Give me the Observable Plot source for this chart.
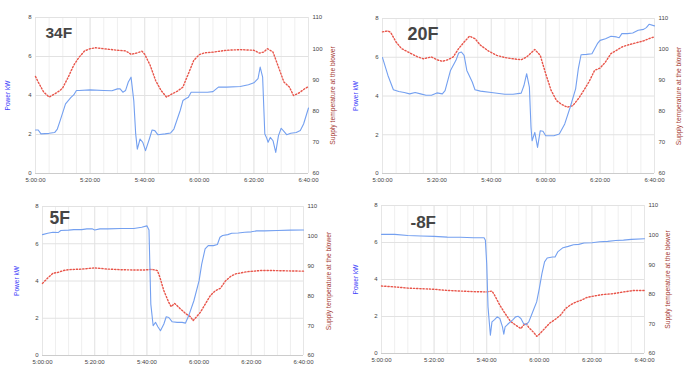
<!DOCTYPE html>
<html>
<head>
<meta charset="utf-8">
<script src="https://cdn.jsdelivr.net/npm/d3@7"></script>
<script src="https://cdn.jsdelivr.net/npm/@observablehq/plot@0.6"></script>
<style>
  body { margin: 0; background: #fff; }
  #wrap { position: relative; width: 700px; height: 389px; overflow: hidden; font-family: "Liberation Sans", Arial, sans-serif; }
  .panel { position: absolute; }
</style>
</head>
<body>
<div id="wrap"></div>
<script>
// ---- data (minutes after 5:00:00, value) ----
const xTicks = [0, 20, 40, 60, 80, 100];
const xTickLabels = ["5:00:00", "5:20:00", "5:40:00", "6:00:00", "6:20:00", "6:40:00"];
const minorTicks = [0,5,10,15,20,25,30,35,40,45,50,55,60,65,70,75,80,85,90,95,100];
const powerTicks = [0, 2, 4, 6, 8];
const tempTicks = [60, 70, 80, 90, 100, 110];
const panelLabels = ["34F", "20F", "5F", "-8F"];
const leftTitle = "Power kW";
const rightTitle = "Supply temperature at the blower";

const power34 = [[0,2.23],[1,2.23],[2,2.03],[5,2.06],[7,2.1],[8,2.28],[9,2.7],[11,3.57],[12,3.74],[13,3.9],[14,4.03],[15,4.26],[16,4.26],[20,4.29],[25,4.26],[28,4.24],[30,4.34],[31,4.34],[32,4.17],[33,4.26],[34,4.69],[35,4.94],[36,3.74],[36.7,2.03],[37.3,1.25],[38.3,1.77],[39.3,1.6],[40.3,1.17],[41.7,1.77],[42.7,2.23],[43.7,2.2],[44.8,1.99],[47.5,2.03],[49.5,2.08],[50.7,2.28],[53,3.23],[54,3.74],[55,3.83],[56,3.91],[57,4.17],[60,4.17],[63,4.17],[65,4.2],[67,4.43],[70,4.43],[75,4.46],[78,4.55],[80,4.65],[81.5,4.86],[82.3,5.46],[83.2,4.94],[84,2.03],[84.6,1.85],[85.2,1.6],[86,1.85],[87,1.68],[88,1.08],[89,1.94],[90,2.32],[91,2.16],[92,1.99],[93.5,2.06],[95.5,2.1],[97,2.2],[98.2,2.54],[100,3.36]];
const temp34 = [[0,91.1],[1,89.3],[3,86.1],[5,84.5],[7,85.5],[9,86.6],[10,87.5],[12,90.9],[14,94.7],[16,97.3],[18,99.3],[20,100],[22,100.3],[25,100],[30,99.5],[33,99.3],[35,98.2],[37,98.6],[39,99.2],[40,98.2],[42,94.7],[44,89.8],[46,86.6],[48,84.5],[50,85.5],[52,86.4],[54,87.7],[56,92],[58,96.3],[60,98.1],[62,98.7],[65,98.9],[70,99.5],[75,99.7],[80,99.5],[82,98.6],[83.5,98.9],[85,100],[87,98.9],[89,94.1],[91,89.3],[93,87.7],[94.5,85],[96.5,85.8],[98.5,87.1],[100,87.9]];

const power20 = [[0,5.98],[2,5.06],[4,4.32],[6,4.23],[8,4.18],[10,4.11],[12,4.18],[14,4.11],[16,4.04],[18,4.04],[20,4.16],[22,4.11],[23,4.28],[25,5.32],[27,5.84],[28,6.22],[29,6.27],[30,6.1],[31,5.32],[33,4.72],[34,4.32],[36,4.25],[40,4.18],[45,4.09],[48,4.09],[51,4.15],[52,4.54],[53,5.15],[54,4.46],[54.6,2.38],[55,1.69],[56,2.12],[57,1.35],[58,2.21],[59,2.18],[60,1.95],[63,1.95],[65,2.04],[67,2.56],[69,3.42],[71,4.37],[72,5.41],[73,6.13],[75,6.15],[77,6.18],[79,6.7],[80,6.87],[82,6.96],[84,7.08],[86,7.05],[87,7.01],[88,7.22],[90,7.22],[92,7.25],[94,7.39],[96,7.44],[97,7.53],[98,7.7],[100,7.62]];
const temp20 = [[0,105.7],[2,106],[3,105.5],[5,102.4],[7,100.3],[10,98.9],[13,97.6],[15,97],[18,97.6],[20,96.7],[22,96.2],[24,96.7],[26,97.6],[28,100.3],[30,102.4],[32,104.3],[34,103.5],[36,101.4],[39,99.5],[42,98.1],[45,97.4],[48,97],[51,96.7],[53,97.6],[55,99.2],[56,100],[58,98.1],[60,92.2],[62,86.8],[64,83.5],[66,82.2],[68,81.4],[70,81.9],[72,84.1],[74,86.8],[76,89.7],[78,93.3],[80,94],[82,96],[84,98.7],[86,99.7],[88,100.8],[90,101.4],[93,102.1],[96,102.8],[98,103.5],[100,104.1]];

const power5 = [[0,6.49],[2,6.56],[4,6.62],[6,6.6],[7,6.71],[10,6.73],[12,6.76],[15,6.76],[17,6.8],[19,6.8],[20,6.74],[22,6.8],[25,6.8],[30,6.82],[35,6.82],[38,6.89],[40,6.96],[40.8,6.74],[41.5,2.76],[42.4,1.6],[43.3,1.78],[44.2,1.54],[45.2,1.33],[46.5,1.69],[47.4,2.08],[48.4,2.04],[49.7,1.81],[51.6,1.78],[53.5,1.78],[54.8,1.74],[56,2.13],[58,2.94],[60,4.02],[61,4.91],[62.3,5.72],[63.5,5.9],[65.5,5.9],[67,5.96],[68,6.35],[69,6.44],[71,6.49],[72.5,6.56],[75,6.58],[77.5,6.62],[80,6.64],[82,6.69],[85,6.69],[90,6.71],[95,6.73],[100,6.74]];
const temp5 = [[0,84.2],[2,86],[4,87.6],[6,87.9],[8,88.5],[10,88.8],[15,89],[20,89.4],[25,89],[30,88.8],[35,88.7],[39,88.7],[42,88.9],[44,88.5],[45,86.2],[46.5,81.7],[48.4,77.8],[49.3,76.4],[50.6,77.5],[52.9,75.6],[54.8,74.1],[56.7,73],[57.7,71.7],[58.6,72.6],[60.5,74.5],[62.4,77.3],[64.3,80.1],[66.2,81.7],[68.2,82.6],[70,84.9],[72,86.5],[74,87.4],[78.3,88.1],[83.4,88.5],[88.5,88.5],[93.6,88.4],[100,88.3]];

const power8m = [[0,6.44],[5,6.44],[10,6.38],[15,6.35],[20,6.33],[25,6.29],[30,6.28],[35,6.26],[39,6.26],[39.5,6.12],[40,4.86],[40.5,2.52],[41.4,0.99],[42,1.71],[43,1.83],[44,1.98],[45,1.89],[46,1.44],[46.5,1.04],[47,1.44],[48,1.58],[49,1.71],[50,1.83],[51,1.98],[52,2.01],[53,1.89],[54,1.62],[55,1.56],[56,1.71],[57,2.07],[58,2.43],[59,2.79],[60,3.51],[61,4.32],[62,4.95],[63,5.16],[65,5.22],[66,5.22],[67,5.49],[69,5.72],[71,5.79],[73,5.88],[75,5.9],[77,5.97],[80,5.99],[83,6.04],[86,6.06],[89,6.11],[92,6.13],[95,6.17],[100,6.2]];
const temp8m = [[0,82.8],[5,82.5],[10,82.1],[15,81.9],[20,81.7],[25,81.3],[30,81.1],[35,80.9],[40,80.8],[42,81.1],[43,79.7],[45,76.3],[47,73.5],[49,70.9],[51,69.6],[53,68.4],[54,69.6],[55,70.1],[56,68.8],[58,67],[59,65.8],[60,66.5],[62,68.4],[64,70.3],[66,71.5],[68,72.9],[70,75.2],[72,76.5],[74,77.4],[76,78],[78,78.9],[80,79.3],[84,79.9],[88,80.2],[92,80.8],[96,81.3],[100,81.3]];

// ---- layout ----
const panels = [
  {label: panelLabels[0], power: power34, temp: temp34, left: 0,   top: 0,   width: 350, height: 190, m: [17, 42, 17, 35], lab: [10, 20, 15.5], lt: -28, rt: 24},
  {label: panelLabels[1], power: power20, temp: temp20, left: 350, top: 0,   width: 350, height: 190, m: [18, 46, 17, 32], lab: [25, 21, 18],   lt: -27, rt: 24},
  {label: panelLabels[2], power: power5,  temp: temp5,  left: 0,   top: 190, width: 350, height: 199, m: [16, 47, 34, 42], lab: [7, 17, 17.5],  lt: -26, rt: 25},
  {label: panelLabels[3], power: power8m, temp: temp8m, left: 350, top: 190, width: 350, height: 199, m: [15, 56, 36, 31], lab: [29, 22, 17],   lt: -26, rt: 23}
];

const toY = t => (t - 60) * 8 / 50;
const fromY = v => Math.round(60 + v * 50 / 8);

const wrap = document.getElementById("wrap");
for (const p of panels) {
  const chart = Plot.plot({
    width: p.width,
    height: p.height,
    marginTop: p.m[0], marginRight: p.m[1], marginBottom: p.m[2], marginLeft: p.m[3],
    style: {fontFamily: '"Liberation Sans", Arial, sans-serif', fontSize: "6px", color: "#444", background: "#fff"},
    x: {domain: [0, 100], axis: null},
    y: {domain: [0, 8], axis: null},
    marks: [
      Plot.gridX(minorTicks, {stroke: "#efefef", strokeOpacity: 1}),
      Plot.gridX(xTicks, {stroke: "#e6e6e6", strokeOpacity: 1}),
      Plot.gridY(powerTicks, {stroke: "#e2e2e2", strokeOpacity: 1}),
      Plot.ruleY([0], {stroke: "#cccccc"}),
      Plot.axisX({ticks: xTicks, tickFormat: d => xTickLabels[xTicks.indexOf(d)], tickSize: 0, tickPadding: 4, fill: "#444"}),
      Plot.axisY({ticks: powerTicks, tickSize: 0, tickPadding: 4, fill: "#444", label: null}),
      Plot.axisY({anchor: "right", ticks: tempTicks.map(toY), tickFormat: v => String(fromY(v)), tickSize: 0, tickPadding: 4, fill: "#444", label: null}),
      Plot.line(p.temp, {x: d => d[0], y: d => toY(d[1]), stroke: "#e8554a", strokeWidth: 1.4, strokeDasharray: "1.3,1.9"}),
      Plot.line(p.power, {x: d => d[0], y: d => d[1], stroke: "#74a0f0", strokeWidth: 1.1}),
      Plot.text([p.label], {text: d => d, frameAnchor: "top-left", dx: p.lab[0], dy: p.lab[1], textAnchor: "start", lineAnchor: "bottom", fontSize: p.lab[2], fontWeight: "bold", fill: "#454545"}),
      Plot.text([leftTitle], {text: d => d, frameAnchor: "left", dx: p.lt, rotate: -90, textAnchor: "middle", lineAnchor: "middle", fontSize: 6.6, fill: "#3d3dfa"}),
      Plot.text([rightTitle], {text: d => d, frameAnchor: "right", dx: p.rt, rotate: -90, textAnchor: "middle", lineAnchor: "middle", fontSize: 6.7, fill: "#a53a32"})
    ]
  });
  chart.classList.add("panel");
  chart.style.left = p.left + "px";
  chart.style.top = p.top + "px";
  wrap.appendChild(chart);
}
</script>
</body>
</html>
